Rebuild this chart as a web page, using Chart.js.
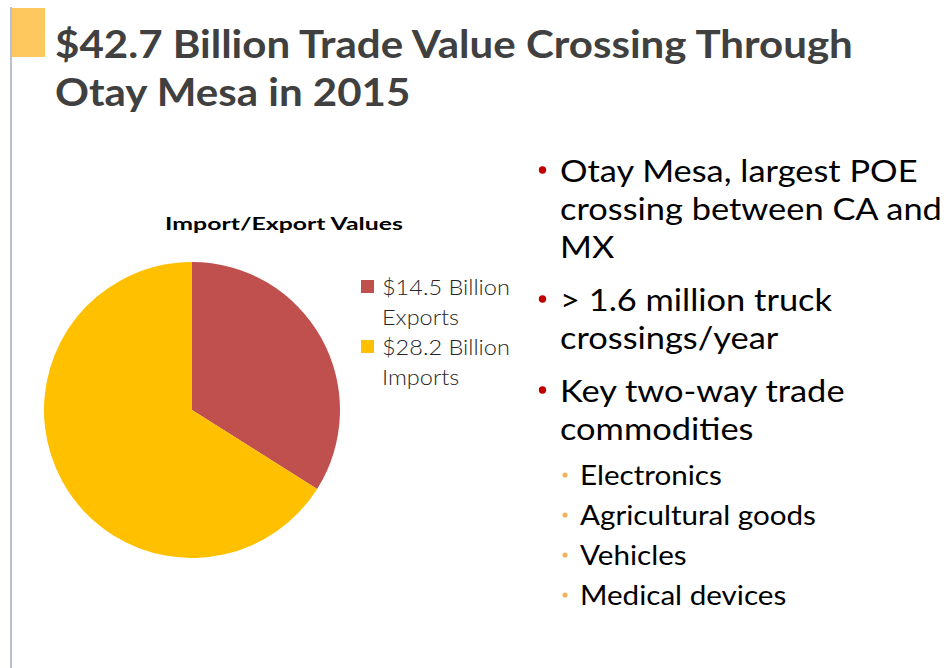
<!DOCTYPE html>
<html>
<head>
<meta charset="utf-8">
<script src="https://cdn.jsdelivr.net/npm/chart.js@4/dist/chart.umd.min.js"></script>
<style>
  html, body { margin: 0; padding: 0; background: #fff; }
  #slide { position: relative; width: 949px; height: 668px; overflow: hidden; }
  #slide svg { position: absolute; left: 0; top: 0; }
  #pieBox { position: absolute; left: 44px; top: 262px; width: 296px; height: 296px; }
</style>
</head>
<body>
<div id="slide">
  <svg id="deco" width="949" height="668"></svg>
  <div id="pieBox"><canvas id="pie"></canvas></div>
</div>
<script>
// slide text + pie data
const titleLines = ['$42.7 Billion Trade Value Crossing Through', 'Otay Mesa in 2015'];
const chartTitle = 'Import/Export Values';
const categories = [['$14.5 Billion', 'Exports'], ['$28.2 Billion', 'Imports']];
const values = [14.5, 28.2];
const sliceColors = ['#C0504D', '#FFC000'];
const bullets = [
  ['Otay Mesa, largest POE', 'crossing between CA and', 'MX'],
  ['> 1.6 million truck', 'crossings/year'],
  ['Key two-way trade', 'commodities'],
];
const subBullets = ['Electronics', 'Agricultural goods', 'Vehicles', 'Medical devices'];

const NS = 'http://www.w3.org/2000/svg';
const svg = document.getElementById('deco');

function mk(tag, attrs, parent) {
  const n = document.createElementNS(NS, tag);
  for (const k in attrs) n.setAttribute(k, attrs[k]);
  (parent || svg).appendChild(n);
  return n;
}

function addLine(g, str, x, y, anchor) {
  const t = mk('text', { x: x, y: y, 'text-anchor': anchor || 'start' }, g);
  t.textContent = str;
  return t;
}

// squeeze a block horizontally so its reference line gets the wanted width
function fit(g, ref, width, ox) {
  const s = width / ref.getComputedTextLength();
  g.setAttribute('transform', `translate(${ox},0) scale(${s},1) translate(${-ox},0)`);
}

// left rule + accent square
mk('rect', { x: 10, y: 7, width: 2, height: 661, fill: '#B9C1CE' });
mk('rect', { x: 12, y: 8, width: 33, height: 49, fill: '#FFC85F' });

// the pie
const chart = new Chart(document.getElementById('pie'), {
  type: 'pie',
  data: {
    labels: categories,
    datasets: [{
      data: values,
      backgroundColor: sliceColors,
      borderWidth: 0,
    }],
  },
  options: {
    responsive: true,
    maintainAspectRatio: false,
    animation: false,
    layout: { padding: 0 },
    plugins: {
      legend: { display: false },
      title: { display: false },
      tooltip: { enabled: false },
    },
  },
});

function build() {
  // slide title
  const tg = mk('g', { fill: '#404040', 'font-family': 'Lato', 'font-weight': 700, 'font-size': 39 });
  const tl = titleLines.map((s, i) => addLine(tg, s, 55, 58 + i * 48));
  fit(tg, tl[0], 798, 55);

  // chart title
  const cg = mk('g', { fill: '#000', 'font-family': 'Lato', 'font-weight': 700, 'font-size': 17 });
  const ct = addLine(cg, chartTitle, 284, 230, 'middle');
  fit(cg, ct, 238, 284);

  // legend, items taken from Chart.js
  const items = Chart.overrides.pie.plugins.legend.labels.generateLabels(chart);
  const lg = mk('g', { fill: '#262626', 'font-family': 'Lato', 'font-weight': 300, 'font-size': 21 });
  let firstLegend = null;
  items.forEach((it, i) => {
    const top = 280 + i * 60;
    mk('rect', { x: 361, y: top, width: 13, height: 13, fill: it.fillStyle });
    const lines = Array.isArray(it.text) ? it.text : [it.text];
    lines.forEach((s, j) => {
      const t = addLine(lg, s, 382, top + 15 + j * 30);
      if (!firstLegend) firstLegend = t;
    });
  });
  fit(lg, firstLegend, 128, 382);

  // bullets
  const bg = mk('g', { fill: '#000', 'font-family': 'Lato', 'font-size': 30 });
  let y = 182, widest = null;
  bullets.forEach((para) => {
    mk('circle', { cx: 542.5, cy: y - 12, r: 3.7, fill: '#C00000' });
    para.forEach((s) => {
      const t = addLine(bg, s, 560, y);
      if (!widest || s.length > widest.textContent.length) widest = t;
      y += 38;
    });
    y += 15;
  });
  fit(bg, widest, 382, 560);

  const sg = mk('g', { fill: '#000', 'font-family': 'Lato', 'font-size': 26 });
  let subRef = null;
  subBullets.forEach((s, i) => {
    const by = 485 + i * 40;
    mk('circle', { cx: 565, cy: by - 10, r: 2.6, fill: '#F2B35E' });
    const t = addLine(sg, s, 580, by);
    if (!subRef || s.length > subRef.textContent.length) subRef = t;
  });
  fit(sg, subRef, 236, 580);
}

(document.fonts ? document.fonts.ready : Promise.resolve()).then(build);
</script>
</body>
</html>
